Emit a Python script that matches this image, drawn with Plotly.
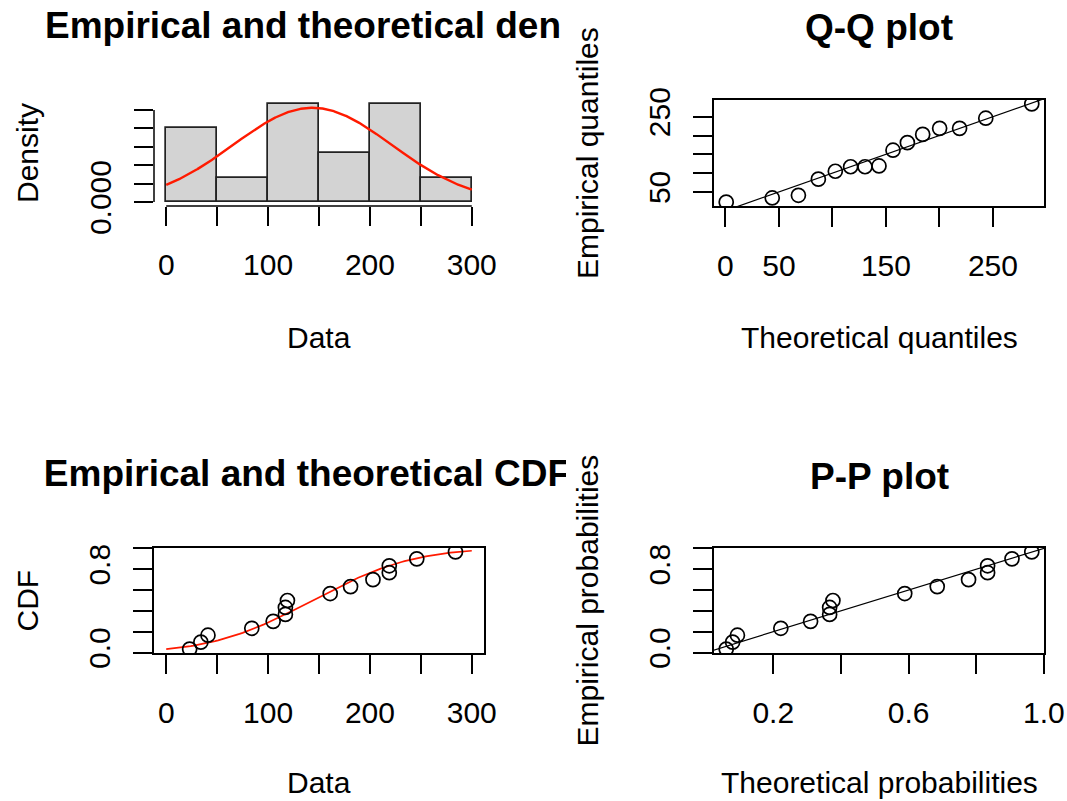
import numpy as np
import plotly.graph_objects as go
from statistics import NormalDist

# ---- observations (sorted sample of 15 values) ----
data = [23, 34, 41, 84, 105, 117, 117, 119, 161, 181, 203, 219, 219, 246, 284]
breaks = [0, 50, 100, 150, 200, 250, 300]

# ---- tick positions and their printed labels ----
hist_yticks = [0, 0.001, 0.002, 0.003, 0.004, 0.005]
hist_ytext = ["0.000", "", "", "", "", ""]
data_xticks = [0, 50, 100, 150, 200, 250, 300]
data_xtext = ["0", "", "100", "", "200", "", "300"]
qq_xticks = [0, 50, 100, 150, 200, 250]
qq_xtext = ["0", "50", "", "150", "", "250"]
qq_yticks = [50, 100, 150, 200, 250]
qq_ytext = ["50", "", "", "", "250"]
prob_yticks = [0.0, 0.2, 0.4, 0.6, 0.8, 1.0]
prob_ytext = ["0.0", "", "", "", "0.8", ""]
pp_xticks = [0.2, 0.4, 0.6, 0.8, 1.0]
pp_xtext = ["0.2", "", "0.6", "", "1.0"]

# ---- normal fit (maximum likelihood) ----
s = np.sort(np.array(data, dtype=float))
n = len(s)
mu = s.mean()
sigma = s.std(ddof=0)
fit = NormalDist(mu, sigma)
obsp = (np.arange(1, n + 1) - 0.5) / n           # plotting positions
theoq = np.array([fit.inv_cdf(p) for p in obsp])  # theoretical quantiles
theop = np.array([fit.cdf(v) for v in s])          # theoretical probabilities

dens, _ = np.histogram(s, bins=breaks, density=True)
centers = [(a + b) / 2 for a, b in zip(breaks[:-1], breaks[1:])]
xd = np.linspace(breaks[0], breaks[-1], 1000)
yd = np.array([fit.pdf(v) for v in xd])
xc = np.linspace(breaks[0], breaks[-1], 101)
yc = np.array([fit.cdf(v) for v in xc])


def pad(lo, hi):
    d = (hi - lo) * 0.04
    return [lo - d, hi + d]


# ---- page geometry (pixels) ----
W, H = 1067, 801
L0, L1, R0, R1 = 154, 484, 714, 1044
T0, T1, B0, B1 = 100, 206, 548, 653
CLIP = 566


def fx(x):
    return x / W


def fy(y):
    return 1 - y / H


FONT = "Liberation Sans, Arial, Helvetica, sans-serif"
INK = "#000000"
MARK = dict(symbol="circle-open", size=14, color=INK, line=dict(width=1.7))

fig = go.Figure()

# histogram + fitted density
fig.add_trace(go.Bar(x=centers, y=dens, width=50,
                     marker=dict(color="#D3D3D3", line=dict(color="#222222", width=1.7)),
                     xaxis="x", yaxis="y", showlegend=False, hoverinfo="skip"))
fig.add_trace(go.Scatter(x=xd, y=yd, mode="lines", line=dict(color="#FF1A00", width=2.4),
                         xaxis="x", yaxis="y", showlegend=False, hoverinfo="skip"))

# Q-Q plot
fig.add_trace(go.Scatter(x=[-50, 350], y=[-50, 350], mode="lines",
                         line=dict(color=INK, width=1.2), xaxis="x2", yaxis="y2",
                         showlegend=False, hoverinfo="skip"))
fig.add_trace(go.Scatter(x=theoq, y=s, mode="markers", marker=MARK,
                         xaxis="x2", yaxis="y2", showlegend=False, hoverinfo="skip"))

# empirical and theoretical CDF
fig.add_trace(go.Scatter(x=xc, y=yc, mode="lines", line=dict(color="#FF1A00", width=1.7),
                         xaxis="x3", yaxis="y3", showlegend=False, hoverinfo="skip"))
fig.add_trace(go.Scatter(x=s, y=obsp, mode="markers", marker=MARK,
                         xaxis="x3", yaxis="y3", showlegend=False, hoverinfo="skip"))

# P-P plot
fig.add_trace(go.Scatter(x=[-1, 2], y=[-1, 2], mode="lines",
                         line=dict(color=INK, width=1.2), xaxis="x4", yaxis="y4",
                         showlegend=False, hoverinfo="skip"))
fig.add_trace(go.Scatter(x=theop, y=obsp, mode="markers", marker=MARK,
                         xaxis="x4", yaxis="y4", showlegend=False, hoverinfo="skip"))

# left-column titles, clipped at the column edge
fig.add_trace(go.Scatter(x=[45 + 258, 45 + 262], y=[29, 477], mode="text",
                         text=["Empirical and theoretical den", "Empirical and theoretical CDF"],
                         textposition="middle center",
                         textfont=dict(family=FONT, size=37, color=INK, weight="bold"),
                         xaxis="x5", yaxis="y5", cliponaxis=True,
                         showlegend=False, hoverinfo="skip"))

tickfont = dict(family=FONT, size=30, color=INK)
common = dict(ticks="outside", ticklen=19, tickwidth=1.5, tickcolor=INK,
              showgrid=False, zeroline=False, tickfont=tickfont, automargin=False,
              linecolor=INK, linewidth=1.5, fixedrange=True)
xcommon = dict(common, ticklabelstandoff=13)
ycommon = dict(common, tickangle=-90, ticklabelstandoff=11)

fig.update_layout(
    width=W, height=H,
    margin=dict(l=0, r=0, t=0, b=0, pad=0, autoexpand=False),
    paper_bgcolor="white", plot_bgcolor="rgba(0,0,0,0)",
    xaxis=dict(xcommon, domain=[fx(L0), fx(L1)], range=pad(breaks[0], breaks[-1]),
               tickvals=data_xticks, ticktext=data_xtext, showline=False, anchor="y"),
    yaxis=dict(ycommon, domain=[fy(T1), fy(T0)], range=pad(0, max(dens.max(), yd.max())),
               tickvals=hist_yticks, ticktext=hist_ytext, showline=False, anchor="x"),
    xaxis2=dict(xcommon, domain=[fx(R0), fx(R1)], range=pad(theoq.min(), theoq.max()),
                tickvals=qq_xticks, ticktext=qq_xtext, showline=True, mirror=True, anchor="y2"),
    yaxis2=dict(ycommon, domain=[fy(T1), fy(T0)], range=pad(s.min(), s.max()),
                tickvals=qq_yticks, ticktext=qq_ytext, showline=True, mirror=True, anchor="x2"),
    xaxis3=dict(xcommon, domain=[fx(L0), fx(L1)], range=pad(breaks[0], breaks[-1]),
                tickvals=data_xticks, ticktext=data_xtext, showline=True, mirror=True, anchor="y3"),
    yaxis3=dict(ycommon, domain=[fy(B1), fy(B0)], range=pad(obsp.min(), obsp.max()),
                tickvals=prob_yticks, ticktext=prob_ytext, showline=True, mirror=True, anchor="x3"),
    xaxis4=dict(xcommon, domain=[fx(R0), fx(R1)], range=pad(theop.min(), theop.max()),
                tickvals=pp_xticks, ticktext=pp_xtext, showline=True, mirror=True, anchor="y4"),
    yaxis4=dict(ycommon, domain=[fy(B1), fy(B0)], range=pad(obsp.min(), obsp.max()),
                tickvals=prob_yticks, ticktext=prob_ytext, showline=True, mirror=True, anchor="x4"),
    xaxis5=dict(domain=[0, fx(CLIP)], range=[0, CLIP], visible=False, fixedrange=True, anchor="y5"),
    yaxis5=dict(domain=[0, 1], range=[H, 0], visible=False, fixedrange=True, anchor="x5"),
    bargap=0,
)

# histogram axis lines span only the tick range
fig.add_shape(type="line", xref="x", yref="y domain", x0=0, x1=300, y0=0, y1=0,
              line=dict(color=INK, width=1.5))
fig.add_shape(type="line", xref="x domain", yref="y", x0=0, x1=0, y0=0, y1=0.005,
              line=dict(color=INK, width=1.5))

labfont = dict(family=FONT, size=30, color=INK)
titfont = dict(family=FONT, size=37, color=INK, weight="bold")


def note(text, x, y, font, angle=0):
    fig.add_annotation(text=text, x=fx(x), y=fy(y), xref="paper", yref="paper",
                       showarrow=False, xanchor="center", yanchor="middle",
                       textangle=angle, font=font)


note("Q-Q plot", (R0 + R1) / 2, 28, titfont)
note("P-P plot", (R0 + R1) / 2, 476, titfont)
note("Data", (L0 + L1) / 2, 338, labfont)
note("Data", (L0 + L1) / 2, 782, labfont)
note("Theoretical quantiles", (R0 + R1) / 2, 338, labfont)
note("Theoretical probabilities", (R0 + R1) / 2, 782, labfont)
note("Density", L0 - 127, (T0 + T1) / 2, labfont, -90)
note("CDF", L0 - 127, (B0 + B1) / 2, labfont, -90)
note("Empirical quantiles", R0 - 127, (T0 + T1) / 2, labfont, -90)
note("Empirical probabilities", R0 - 127, (B0 + B1) / 2, labfont, -90)

fig.write_html("out.html")
